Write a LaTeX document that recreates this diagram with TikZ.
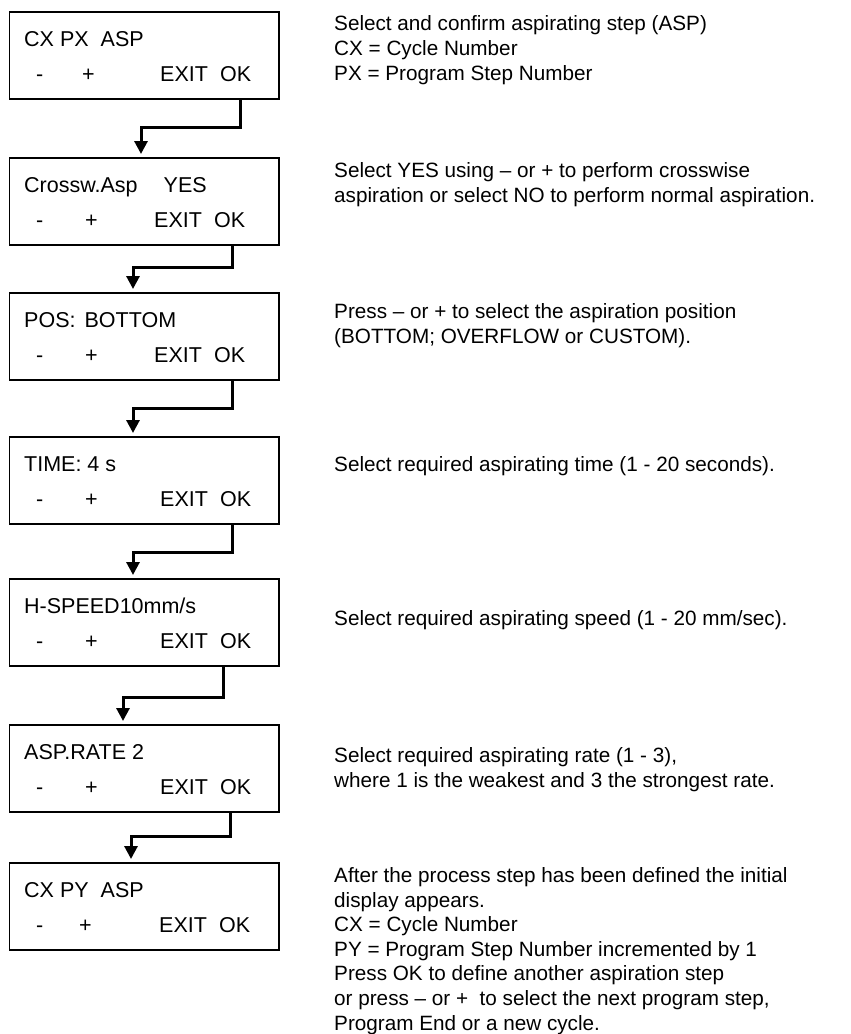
\documentclass[tikz,border=0pt]{standalone}
\usepackage{fontspec}
\setmainfont{Liberation Sans}
\usetikzlibrary{arrows.meta}
\tikzset{
  dbox/.style={draw=black, line width=1.2pt, minimum width=269.5pt, minimum height=87pt, inner sep=0pt, outer sep=0pt, anchor=north west},
  btxt/.style={anchor=base west, inner sep=0pt, font=\fontsize{21.5}{25}\selectfont},
  rtxt/.style={anchor=base west, inner sep=0pt, align=left, font=\fontsize{20.7}{24.6}\selectfont},
  conn/.style={line width=3pt, -{Triangle[length=13pt,width=13pt]}, shorten >=4pt}
}
\newcommand\dispbox[6]{%
  \node[dbox] (#1) at (9.5,#2) {};
  \node[btxt] (#1top) at (24,#2+34) {#3};
  \node[btxt] (#1minus) at (36,#2+69) {-};
  \node[btxt] (#1plus) at (#4,#2+69) {+};
  \node[btxt] (#1exit) at (#5,#2+69) {EXIT};
  \node[btxt] (#1ok) at (#6,#2+69) {OK};
}
\begin{document}
\begin{tikzpicture}[x=1pt,y=-1pt]
\useasboundingbox (0,0) rectangle (851,1034);
\dispbox{b1}{12}{CX PX\hspace{12pt}ASP}{82}{160}{220}
\dispbox{b2}{158}{Crossw.Asp\hspace{26pt}YES}{85}{154}{214}
\dispbox{b3}{293}{POS:\hspace{9pt}BOTTOM}{85}{154}{214}
\dispbox{b4}{437}{TIME: 4 s}{85}{160}{220}
\dispbox{b5}{579}{H-SPEED10mm/s}{85}{160}{220}
\dispbox{b6}{725}{ASP.RATE 2}{85}{160}{220}
\dispbox{b7}{863}{CX PY\hspace{12pt}ASP}{79}{159}{219}
% connectors
\coordinate (c1s) at (240,127); \coordinate (c1e) at (141,127);
\coordinate (c2s) at (232,267); \coordinate (c2e) at (133,267);
\coordinate (c3s) at (232,408); \coordinate (c3e) at (133,408);
\coordinate (c4s) at (232,552); \coordinate (c4e) at (133,552);
\coordinate (c5s) at (223,697); \coordinate (c5e) at (123,697);
\coordinate (c6s) at (230,836); \coordinate (c6e) at (131,836);
\draw[conn] (b1.south -| c1s) |- (c1e) -- (b2.north -| c1e);
\draw[conn] (b2.south -| c2s) |- (c2e) -- (b3.north -| c2e);
\draw[conn] (b3.south -| c3s) |- (c3e) -- (b4.north -| c3e);
\draw[conn] (b4.south -| c4s) |- (c4e) -- (b5.north -| c4e);
\draw[conn] (b5.south -| c5s) |- (c5e) -- (b6.north -| c5e);
\draw[conn] (b6.south -| c6s) |- (c6e) -- (b7.north -| c6e);
% descriptions (anchored at the baseline of the last line)
\node[rtxt] (r1) at (334,80) {Select and confirm aspirating step (ASP)\\CX = Cycle Number\\PX = Program Step Number};
\node[rtxt] (r2) at (334,202) {Select YES using – or + to perform crosswise\\aspiration or select NO to perform normal aspiration.};
\node[rtxt] (r3) at (334,343) {Press – or + to select the aspiration position\\(BOTTOM; OVERFLOW or CUSTOM).};
\node[rtxt] (r4) at (334,471) {Select required aspirating time (1 - 20 seconds).};
\node[rtxt] (r5) at (334,625) {Select required aspirating speed (1 - 20 mm/sec).};
\node[rtxt] (r6) at (334,787) {Select required aspirating rate (1 - 3),\\where 1 is the weakest and 3 the strongest rate.};
\node[rtxt] (r7) at (334,1030) {After the process step has been defined the initial\\display appears.\\CX = Cycle Number\\PY = Program Step Number incremented by 1\\Press OK to define another aspiration step\\or press – or +~ to select the next program step,\\Program End or a new cycle.};
\end{tikzpicture}
\end{document}
